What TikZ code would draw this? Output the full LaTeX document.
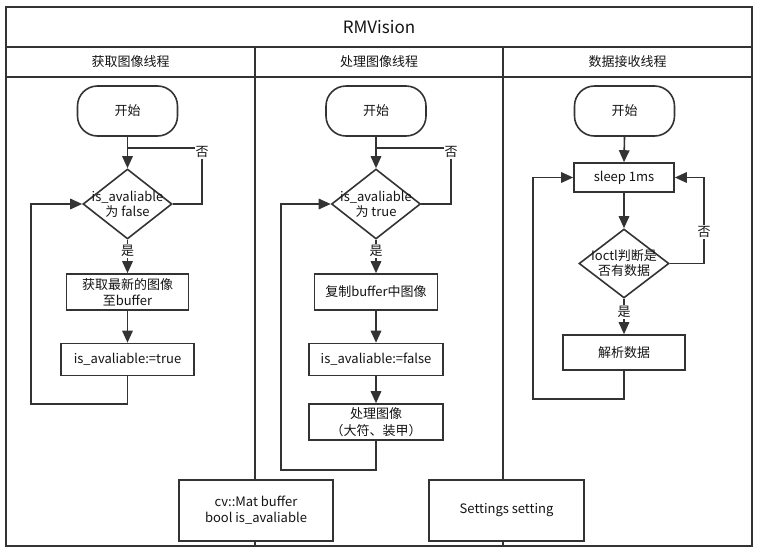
\documentclass[tikz,border=0pt]{standalone}
\usepackage{fontspec}
\setmainfont{Noto Sans CJK SC}
\usetikzlibrary{arrows.meta,shapes.geometric}
\definecolor{ink}{RGB}{51,51,51}
\definecolor{txt}{RGB}{20,20,20}
\begin{document}
\begin{tikzpicture}[x=1pt,y=-1pt,
  every node/.style={font=\fontsize{13}{16}\selectfont, text=txt},
  ln/.style={draw=ink, line width=1.6pt},
  arr/.style={ln, -{Triangle[length=12pt,width=10.5pt]}},
  startbox/.style={draw=ink, line width=1.6pt, rounded corners=20pt, minimum width=100pt, minimum height=50pt, inner sep=0pt},
  procbox/.style={draw=ink, line width=1.6pt, fill=white, inner sep=0pt, align=center},
  decbox/.style={draw=ink, line width=1.6pt, diamond, inner sep=0pt, minimum width=89pt, minimum height=70pt},
  dtext/.style={align=center, font=\fontsize{13}{15}\selectfont},
  lab/.style={fill=white, inner sep=1pt},
]
\useasboundingbox (0,0) rectangle (760,552);
% frame and lanes
\draw[ln, line width=1.7pt] (6,7) rectangle (752,546);
\draw[ln] (6,47) -- (752,47);
\draw[ln] (6,77) -- (752,77);
\draw[ln] (255,47) -- (255,546);
\draw[ln] (503,47) -- (503,546);
\node[font=\fontsize{17}{20}\selectfont] (title) at (379,27) {RMVision};
\node (h1) at (130.5,62) {获取图像线程};
\node (h2) at (379,62) {处理图像线程};
\node (h3) at (627.5,62) {数据接收线程};

% lane 1
\node[startbox] (s1) at (127.5,111) {开始};
\node[decbox, label={[dtext]center:is\_avaliable\\为 false}] (d1) at (127.5,204) {};
\node[procbox, minimum width=122pt, minimum height=36pt] (b11) at (127.5,292) {获取最新的图像\\至buffer};
\node[procbox, minimum width=133pt, minimum height=32pt] (b12) at (127.5,359.5) {is\_avaliable:=true};
\coordinate (r1) at (202,148);
\coordinate (j1) at (127.5,148);
\coordinate (l1) at (31,404);
\draw[arr] (s1) -- (d1);
\draw[ln] (d1.east) -| (r1) -- (j1);
\node[lab] (no1) at (202,152) {否};
\draw[arr] (d1) -- (b11);
\node[lab] (yes1) at (127.5,251) {是};
\draw[arr] (b11) -- (b12);
\draw[arr] (b12.south) |- (l1) |- (d1.west);

% lane 2
\node[startbox] (s2) at (376,111) {开始};
\node[decbox, label={[dtext]center:is\_avaliable\\为 true}] (d2) at (376,204) {};
\node[procbox, minimum width=123pt, minimum height=36pt] (b21) at (376,292) {复制buffer中图像};
\node[procbox, minimum width=134pt, minimum height=32pt] (b22) at (376,359.5) {is\_avaliable:=false};
\node[procbox, minimum width=134pt, minimum height=36pt, font=\fontsize{13}{17}\selectfont] (b23) at (376,422) {处理图像\\（大符、装甲）};
\coordinate (r2) at (451,148);
\coordinate (j2) at (376,148);
\coordinate (l2) at (281,470);
\draw[arr] (s2) -- (d2);
\draw[ln] (d2.east) -| (r2) -- (j2);
\node[lab] (no2) at (451,152) {否};
\draw[arr] (d2) -- (b21);
\node[lab] (yes2) at (376,251) {是};
\draw[arr] (b21) -- (b22);
\draw[arr] (b22) -- (b23);
\draw[arr] (b23.south) |- (l2) |- (d2.west);

% lane 3
\node[startbox] (s3) at (624.5,111) {开始};
\node[procbox, minimum width=100pt, minimum height=29pt] (sl) at (624,177.5) {sleep 1ms};
\node[decbox, minimum width=90pt, minimum height=69pt, label={[dtext]center:Ioctl判断是\\否有数据}] (d3) at (624,263.5) {};
\node[procbox, minimum width=122pt, minimum height=35pt] (pb) at (624,352.5) {解析数据};
\coordinate (r3) at (704,177.5);
\coordinate (l3) at (533,399);
\draw[arr] (s3.south) -- (sl.north);
\draw[arr] (sl) -- (d3);
\draw[arr] (d3.east) -| (r3) -- (sl.east);
\node[lab] (no3) at (704,232) {否};
\draw[arr] (d3) -- (pb);
\node[lab] (yes3) at (624,312) {是};
\draw[arr] (pb.south) |- (l3) |- (sl.west);

% shared data
\node[procbox, minimum width=154pt, minimum height=61pt] (cv) at (256,510.5) {cv::Mat buffer\\bool is\_avaliable};
\node[procbox, minimum width=155pt, minimum height=61pt] (set) at (506.5,510.5) {Settings setting};
\end{tikzpicture}
\end{document}
